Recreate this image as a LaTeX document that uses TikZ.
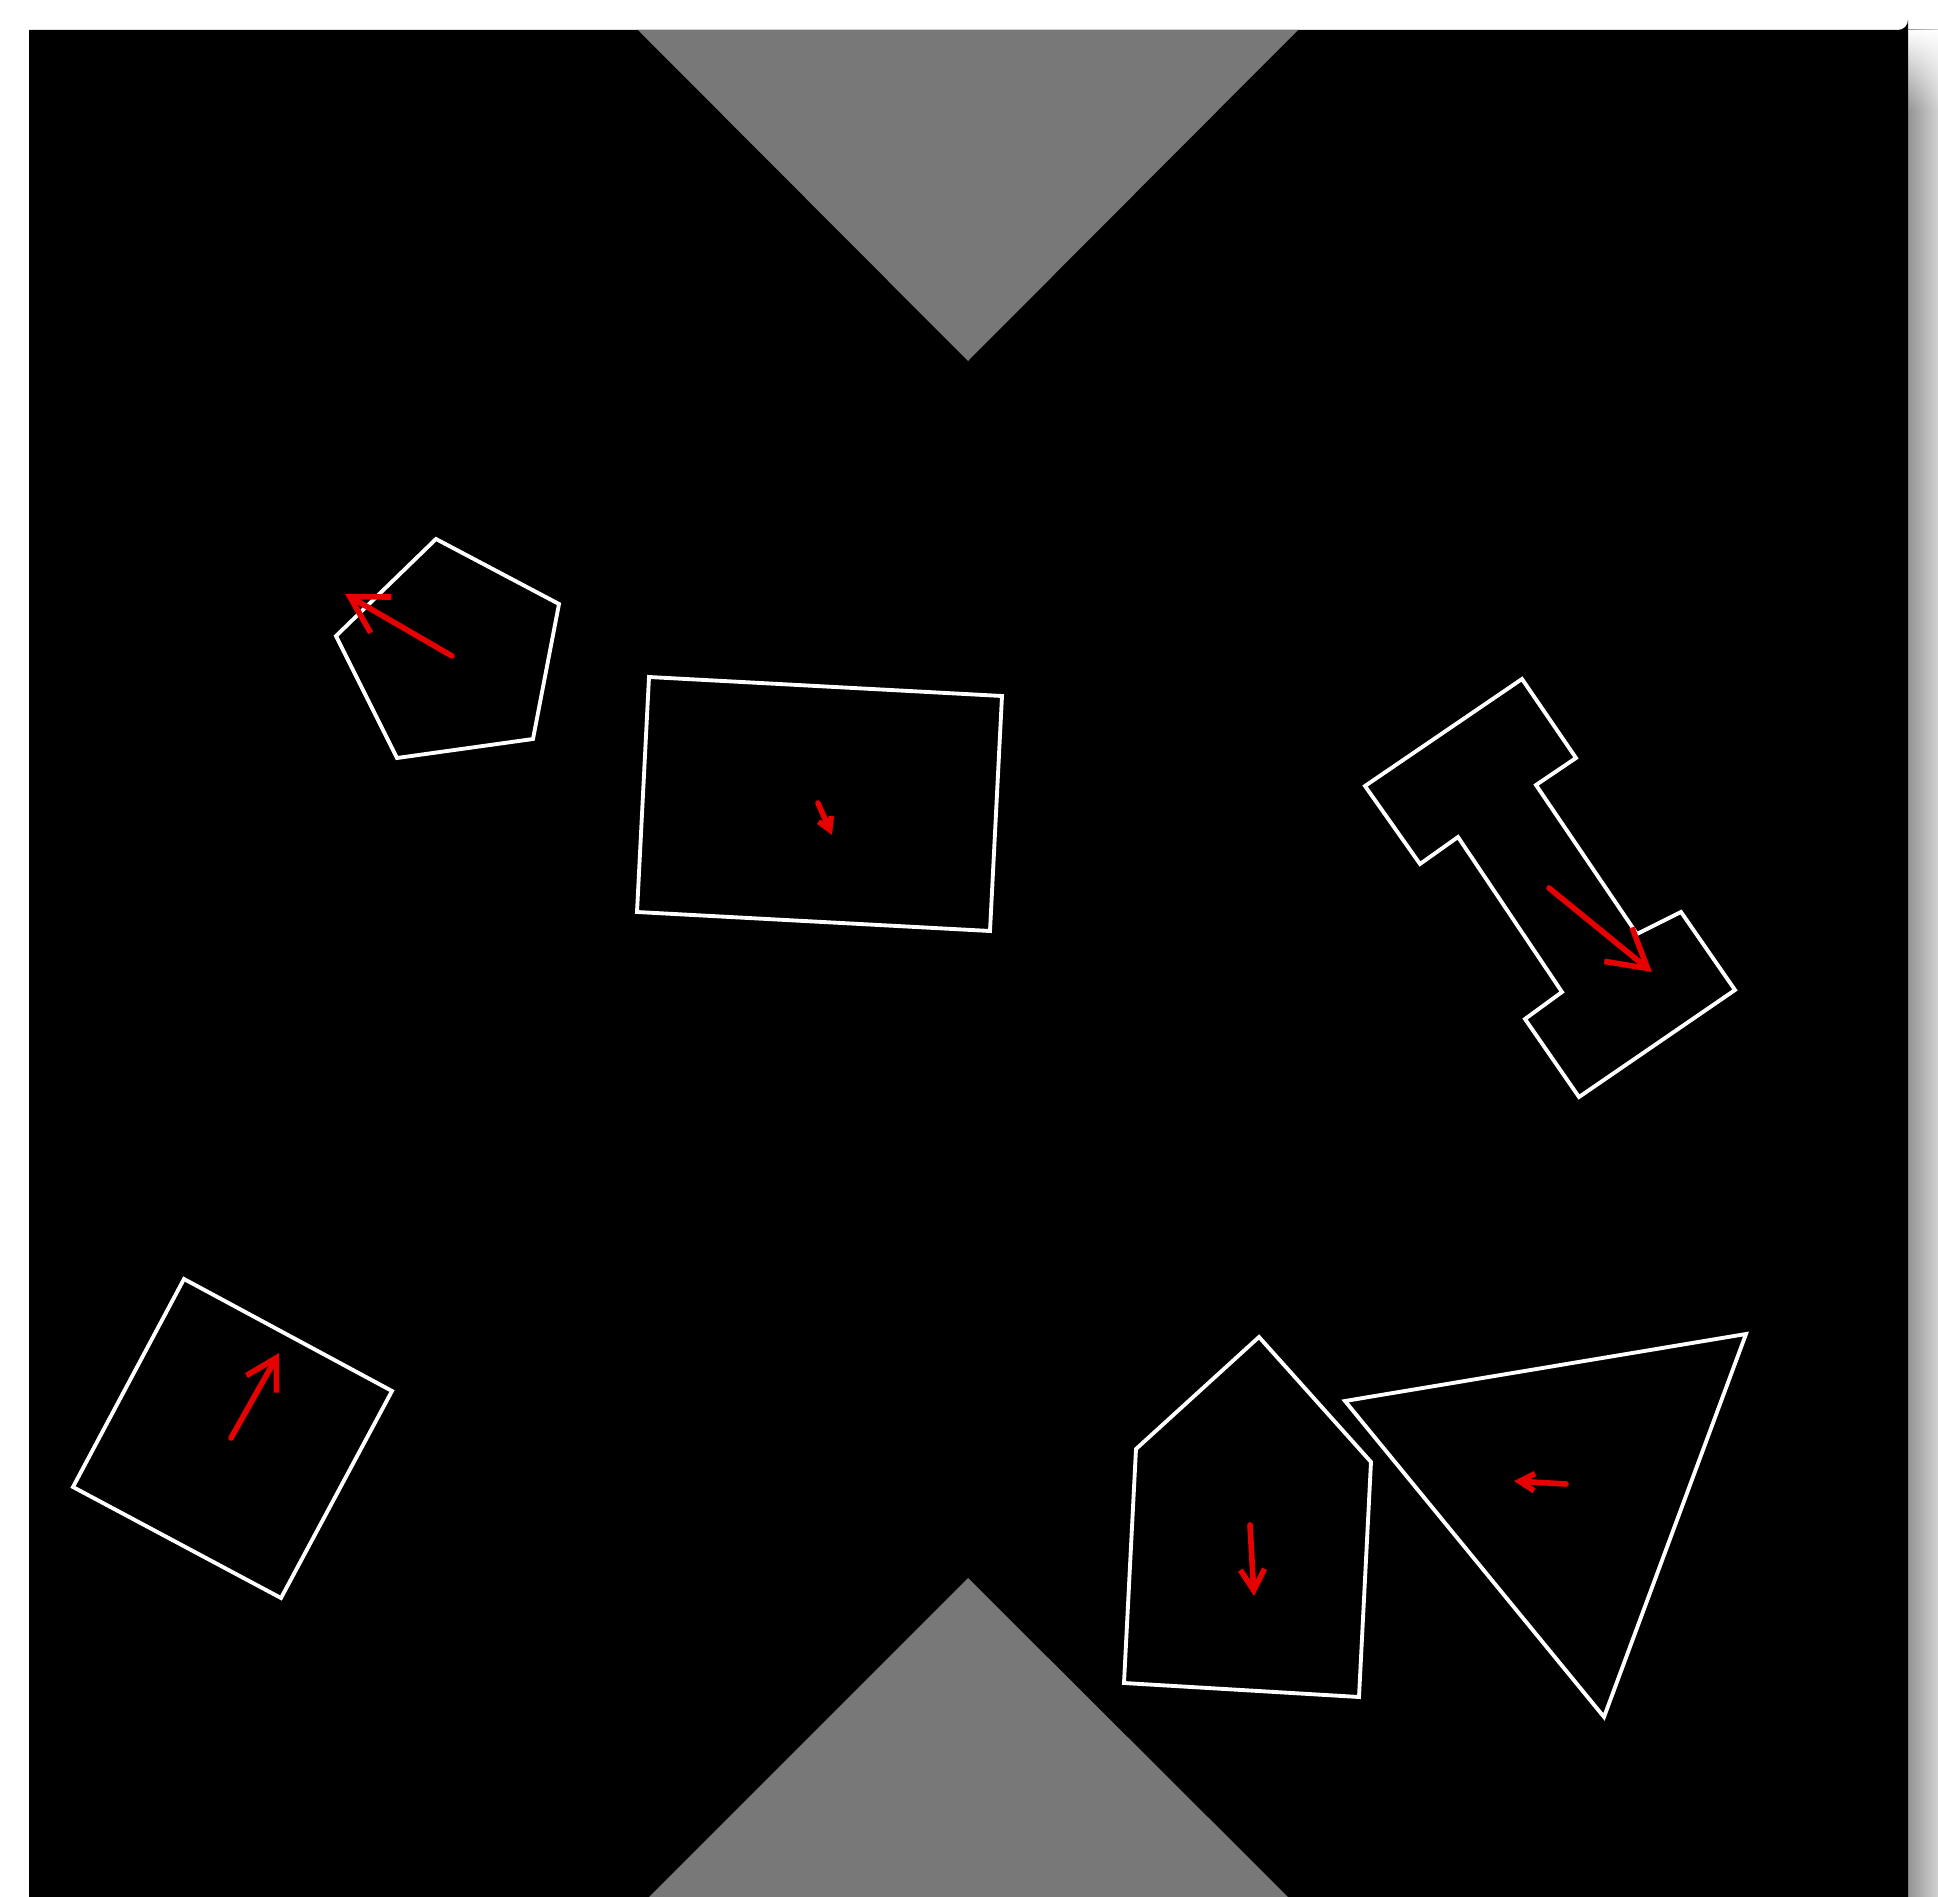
\documentclass[tikz,border=0pt]{standalone}
\usepackage{tikz}
\usetikzlibrary{arrows.meta,fadings}
\definecolor{wall}{HTML}{787878}
\definecolor{vel}{HTML}{E60000}

\begin{document}
\begin{tikzpicture}[x=0.01cm, y=-0.01cm,
    body/.style={draw=white, line width=1.1pt, line join=miter},
    push/.style={draw=vel, line width=1.6pt, line cap=round, -{Straight Barb[length=#1, width=1.15*#1, line width=1.6pt]}},
    push/.default=3mm]
  \useasboundingbox (0,0) rectangle (1938,1897);
  % backdrop and shadow
  \fill[white] (0,0) rectangle (1938,1897);
  \shade[left color=black!42, right color=black!18] (1908,30) rectangle (1938,1897);
  \fill[white, path fading=south] (1908,30) rectangle (1938,110);
  \fill[black] (29,30) -- (1898,30) arc[start angle=90, end angle=0, radius=10] -- (1908,1897) -- (29,1897) -- cycle;
  % funnels
  \fill[wall] (638,30) -- (1298,30) -- (968,361) -- cycle;
  \fill[wall] (649,1897) -- (968,1578) -- (1288,1897) -- cycle;
  % bodies
  \draw[body] (436,539) -- (559,604) -- (533,739) -- (397,758) -- (336,636) -- cycle;
  \draw[body] (649,677) -- (1002,696) -- (990,931) -- (637,912) -- cycle;
  \draw[body] (1365,786) -- (1522,679) -- (1576,758) -- (1536,785) -- (1637,934) -- (1681,912)
    -- (1735,990) -- (1579,1097) -- (1525,1019) -- (1562,992) -- (1458,837) -- (1420,864) -- cycle;
  \draw[body] (184,1279) -- (392,1391) -- (281,1598) -- (73,1487) -- cycle;
  \draw[body] (1259,1337) -- (1371,1462) -- (1359,1697) -- (1124,1683) -- (1136,1449) -- cycle;
  \draw[body] (1345,1401) -- (1746,1334) -- (1604,1717) -- cycle;
  % velocities
  \draw[push=3.6mm] (452,656) -- (345,594);
  \draw[push=1.2mm] (818,803) -- (832,835);
  \draw[push=3.8mm] (1549,888) -- (1652,972);
  \draw[push=3mm] (231,1438) -- (279,1353);
  \draw[push=2.1mm] (1250,1525) -- (1254,1596);
  \draw[push=1.5mm] (1566,1484) -- (1514,1481);
\end{tikzpicture}
\end{document}
